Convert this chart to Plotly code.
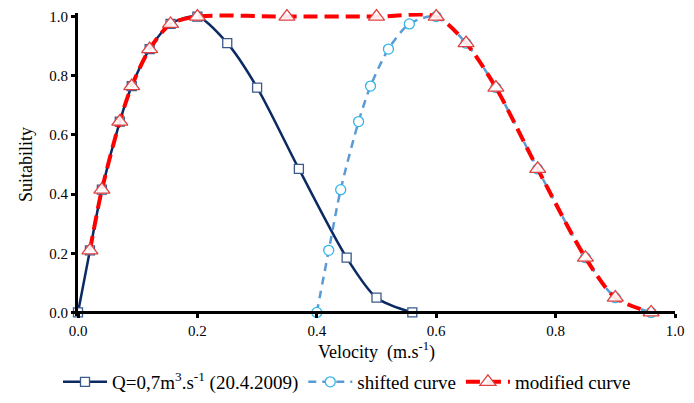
import plotly.graph_objects as go

# Original curve (Q=0,7 m3/s, 20.4.2009)
orig_x = [0.0, 0.02, 0.04, 0.07, 0.09, 0.12, 0.155, 0.2, 0.25, 0.3, 0.37, 0.45, 0.5, 0.56]
orig_y = [0.0, 0.21, 0.415, 0.645, 0.765, 0.89, 0.975, 1.0, 0.91, 0.76, 0.485, 0.185, 0.05, 0.0]

# Shifted curve
shift_x = [0.4, 0.42, 0.44, 0.47, 0.49, 0.52, 0.555, 0.6, 0.65, 0.7, 0.77, 0.85, 0.9, 0.96]
shift_y = [0.0, 0.21, 0.415, 0.645, 0.765, 0.89, 0.975, 1.0, 0.91, 0.76, 0.485, 0.185, 0.05, 0.0]

# Modified curve
mod_x = [0.02, 0.04, 0.07, 0.09, 0.12, 0.155, 0.2, 0.35, 0.5, 0.6, 0.65, 0.7, 0.77, 0.85, 0.9, 0.96]
mod_y = [0.21, 0.415, 0.645, 0.765, 0.89, 0.975, 1.0, 1.0, 1.0, 1.0, 0.91, 0.76, 0.485, 0.185, 0.05, 0.0]

x_ticks = [0.0, 0.2, 0.4, 0.6, 0.8, 1.0]
y_ticks = [0.0, 0.2, 0.4, 0.6, 0.8, 1.0]

FONT = "Times New Roman, Liberation Serif, serif"
Y_PAD = 0.012
y_range = [-Y_PAD, 1 + Y_PAD]

fig = go.Figure()
fig.add_trace(go.Scatter(
    x=orig_x, y=orig_y, mode="lines+markers",
    name="Q=0,7m<sup>3</sup>.s<sup>-1</sup> (20.4.2009)",
    line=dict(color="#0B2A63", width=2.5, shape="spline", smoothing=0.8),
    marker=dict(symbol="square", size=9, color="white",
                line=dict(color="#3A5A8C", width=1.3)),
    cliponaxis=False,
))
fig.add_trace(go.Scatter(
    x=shift_x, y=shift_y, mode="lines+markers",
    name="shifted curve",
    line=dict(color="#5B9BD5", width=2.5, dash="8px,6px", shape="spline", smoothing=0.8),
    marker=dict(symbol="circle", size=10, color="white",
                line=dict(color="#33B5E5", width=1.3)),
    cliponaxis=False,
))
fig.add_trace(go.Scatter(
    x=mod_x, y=mod_y, mode="lines+markers",
    name="modified curve",
    line=dict(color="#FF0000", width=4, dash="14px,7px", shape="spline", smoothing=0.8),
    marker=dict(symbol="triangle-up", size=14, color="rgba(255,255,255,0.9)",
                line=dict(color="#E04040", width=1.3)),
    cliponaxis=False,
))

fig.update_layout(
    width=694, height=403,
    margin=dict(l=78, r=19, t=13, b=87, autoexpand=False),
    paper_bgcolor="white", plot_bgcolor="white",
    font=dict(family=FONT, size=15, color="black"),
    showlegend=True,
    legend=dict(orientation="h", xref="container", yref="container",
                x=0.5, xanchor="center", y=1 - 382 / 403, yanchor="middle",
                font=dict(size=19, family=FONT), itemwidth=44, tracegroupgap=0),
)
fig.update_xaxes(
    range=[0, 1], tickvals=x_ticks, ticktext=[f"{v:.1f}" for v in x_ticks],
    anchor="free", position=Y_PAD / (1 + 2 * Y_PAD),
    showline=True, linecolor="black", linewidth=3,
    ticks="outside", ticklen=4, tickwidth=3, tickcolor="black",
    showgrid=False, zeroline=False, automargin=False,
    tickfont=dict(size=15),
    title=dict(text="Velocity  (m.s<sup>-1</sup>)", font=dict(size=18), standoff=6),
)
fig.update_yaxes(
    range=y_range, tickvals=y_ticks, ticktext=[f"{v:.1f}" for v in y_ticks],
    showline=True, linecolor="black", linewidth=3,
    ticks="outside", ticklen=4, tickwidth=3, tickcolor="black",
    showgrid=False, zeroline=False, automargin=False,
    tickfont=dict(size=15),
    title=dict(text="Suitability", font=dict(size=18), standoff=12),
)

fig.write_html("out.html")
